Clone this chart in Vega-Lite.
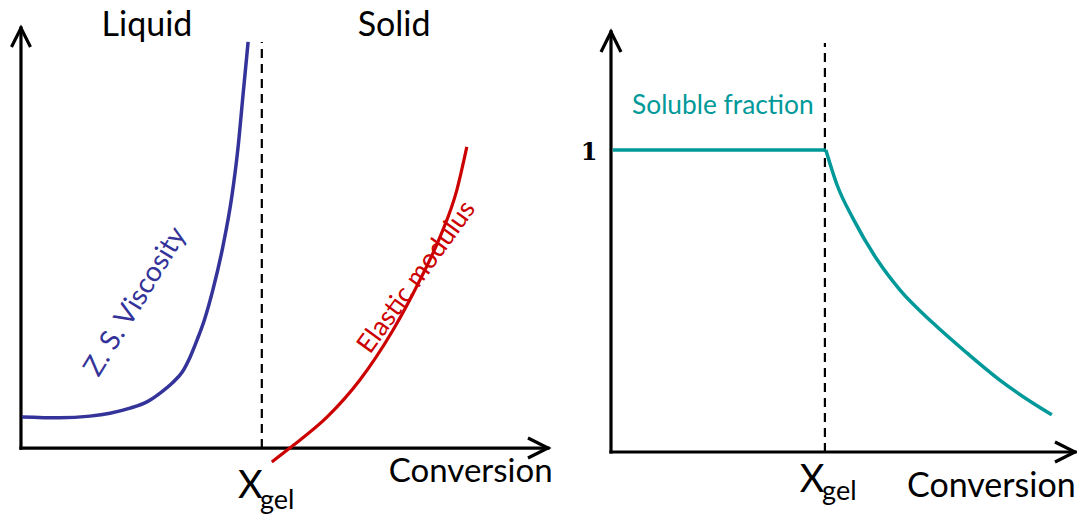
{
  "$schema": "https://vega.github.io/schema/vega-lite/v6.json",
  "padding": 0,
  "spacing": 0,
  "bounds": "flush",
  "background": "white",
  "config": {"view": {"stroke": null}},
  "hconcat": [
    {
      "width": 560,
      "height": 514,
      "layer": [
        {
          "data": {"values": [{"x": 0, "y": 0, "x2": 1, "y2": 0}, {"x": 0, "y": 0, "x2": 0, "y2": 1}]},
          "mark": {"type": "rule", "color": "black", "strokeWidth": 3.2, "strokeCap": "square"},
          "encoding": {
            "x": {"field": "x", "type": "quantitative", "scale": {"domain": [-0.0398, 1.0228], "nice": false, "zero": false}, "axis": null},
            "y": {"field": "y", "type": "quantitative", "scale": {"domain": [-0.157, 1.0667], "nice": false, "zero": false}, "axis": null},
            "x2": {"field": "x2"},
            "y2": {"field": "y2"}
          }
        },
        {
          "data": {"values": [{"x": 0.457, "y": 0, "y2": 0.967}]},
          "mark": {"type": "rule", "color": "black", "strokeWidth": 2.2, "strokeDash": [9, 6]},
          "encoding": {
            "x": {"field": "x", "type": "quantitative", "axis": null},
            "y": {"field": "y", "type": "quantitative", "axis": null},
            "y2": {"field": "y2"}
          }
        },
        {
          "data": {"values": [
            {"x": 0.002, "y": 0.074}, {"x": 0.073, "y": 0.072}, {"x": 0.131, "y": 0.076}, {"x": 0.169, "y": 0.083},
            {"x": 0.207, "y": 0.095}, {"x": 0.239, "y": 0.110}, {"x": 0.264, "y": 0.131}, {"x": 0.287, "y": 0.155},
            {"x": 0.306, "y": 0.181}, {"x": 0.321, "y": 0.217}, {"x": 0.334, "y": 0.257}, {"x": 0.348, "y": 0.305},
            {"x": 0.364, "y": 0.376}, {"x": 0.383, "y": 0.479}, {"x": 0.400, "y": 0.598},
            {"x": 0.412, "y": 0.717}, {"x": 0.421, "y": 0.836}, {"x": 0.431, "y": 0.967}
          ]},
          "mark": {"type": "line", "color": "#333399", "strokeWidth": 3.5, "interpolate": "monotone"},
          "encoding": {
            "x": {"field": "x", "type": "quantitative", "axis": null},
            "y": {"field": "y", "type": "quantitative", "axis": null}
          }
        },
        {
          "data": {"values": [
            {"x": 0.476, "y": -0.033}, {"x": 0.510, "y": 0.0}, {"x": 0.581, "y": 0.074}, {"x": 0.643, "y": 0.162},
            {"x": 0.706, "y": 0.281}, {"x": 0.757, "y": 0.400}, {"x": 0.795, "y": 0.502}, {"x": 0.827, "y": 0.614},
            {"x": 0.846, "y": 0.717}
          ]},
          "mark": {"type": "line", "color": "#CC0000", "strokeWidth": 3.2, "interpolate": "monotone"},
          "encoding": {
            "x": {"field": "x", "type": "quantitative", "axis": null},
            "y": {"field": "y", "type": "quantitative", "axis": null}
          }
        },
        {
          "data": {"values": [{"x": 1, "y": 0}]},
          "mark": {"type": "point", "shape": "M -1 -0.5 L 0 0 L -1 0.5", "size": 1600, "filled": false, "color": "black", "strokeWidth": 3.2, "opacity": 1},
          "encoding": {
            "x": {"field": "x", "type": "quantitative", "axis": null},
            "y": {"field": "y", "type": "quantitative", "axis": null}
          }
        },
        {
          "data": {"values": [{"x": 0, "y": 1}]},
          "mark": {"type": "point", "shape": "M -0.5 1 L 0 0 L 0.5 1", "size": 1444, "filled": false, "color": "black", "strokeWidth": 3.2, "opacity": 1},
          "encoding": {
            "x": {"field": "x", "type": "quantitative", "axis": null},
            "y": {"field": "y", "type": "quantitative", "axis": null}
          }
        },
        {
          "data": {"values": [{"x": 0.239, "y": 0.981, "label": "Liquid"}, {"x": 0.708, "y": 0.981, "label": "Solid"}]},
          "mark": {"type": "text", "font": "Lato", "fontSize": 34, "color": "black", "align": "center", "baseline": "alphabetic"},
          "encoding": {
            "x": {"field": "x", "type": "quantitative", "axis": null},
            "y": {"field": "y", "type": "quantitative", "axis": null},
            "text": {"field": "label"}
          }
        },
        {
          "data": {"values": [{"x": 0.698, "y": -0.081, "label": "Conversion"}]},
          "mark": {"type": "text", "font": "Lato", "fontSize": 33, "color": "black", "align": "left", "baseline": "alphabetic"},
          "encoding": {
            "x": {"field": "x", "type": "quantitative", "axis": null},
            "y": {"field": "y", "type": "quantitative", "axis": null},
            "text": {"field": "label"}
          }
        },
        {
          "data": {"values": [{"x": 0.412, "y": -0.119, "label": "X"}]},
          "mark": {"type": "text", "font": "Lato", "fontSize": 38, "color": "black", "align": "left", "baseline": "alphabetic"},
          "encoding": {
            "x": {"field": "x", "type": "quantitative", "axis": null},
            "y": {"field": "y", "type": "quantitative", "axis": null},
            "text": {"field": "label"}
          }
        },
        {
          "data": {"values": [{"x": 0.4535, "y": -0.145, "label": "gel"}]},
          "mark": {"type": "text", "font": "Lato", "fontSize": 27, "color": "black", "align": "left", "baseline": "alphabetic"},
          "encoding": {
            "x": {"field": "x", "type": "quantitative", "axis": null},
            "y": {"field": "y", "type": "quantitative", "axis": null},
            "text": {"field": "label"}
          }
        },
        {
          "data": {"values": [{"x": 0.218, "y": 0.348, "label": "Z. S.  Viscosity"}]},
          "mark": {"type": "text", "font": "Lato", "fontSize": 28, "color": "#333399", "align": "center", "baseline": "middle", "angle": 301.5},
          "encoding": {
            "x": {"field": "x", "type": "quantitative", "axis": null},
            "y": {"field": "y", "type": "quantitative", "axis": null},
            "text": {"field": "label"}
          }
        },
        {
          "data": {"values": [{"x": 0.751, "y": 0.407, "label": "Elastic modulus"}]},
          "mark": {"type": "text", "font": "Lato", "fontSize": 26.5, "color": "#CC0000", "align": "center", "baseline": "middle", "angle": 306},
          "encoding": {
            "x": {"field": "x", "type": "quantitative", "axis": null},
            "y": {"field": "y", "type": "quantitative", "axis": null},
            "text": {"field": "label"}
          }
        }
      ]
    },
    {
      "width": 517,
      "height": 514,
      "layer": [
        {
          "data": {"values": [{"x": 0, "y": 0, "x2": 1, "y2": 0}, {"x": 0, "y": 0, "x2": 0, "y2": 1.391}]},
          "mark": {"type": "rule", "color": "black", "strokeWidth": 3.2, "strokeCap": "square"},
          "encoding": {
            "x": {"field": "x", "type": "quantitative", "scale": {"domain": [-0.1099, 1.0043], "nice": false, "zero": false}, "axis": null},
            "y": {"field": "y", "type": "quantitative", "scale": {"domain": [-0.2053, 1.4967], "nice": false, "zero": false}, "axis": null},
            "x2": {"field": "x2"},
            "y2": {"field": "y2"}
          }
        },
        {
          "data": {"values": [{"x": 0.461, "y": 0, "y2": 1.354}]},
          "mark": {"type": "rule", "color": "black", "strokeWidth": 2.2, "strokeDash": [9, 6]},
          "encoding": {
            "x": {"field": "x", "type": "quantitative", "axis": null},
            "y": {"field": "y", "type": "quantitative", "axis": null},
            "y2": {"field": "y2"}
          }
        },
        {
          "data": {"values": [{"x": 0.004, "y": 1.0}, {"x": 0.463, "y": 1.0}]},
          "mark": {"type": "line", "color": "#009999", "strokeWidth": 3.5},
          "encoding": {
            "x": {"field": "x", "type": "quantitative", "axis": null},
            "y": {"field": "y", "type": "quantitative", "axis": null}
          }
        },
        {
          "data": {"values": [
            {"x": 0.463, "y": 1.0}, {"x": 0.487, "y": 0.885}, {"x": 0.522, "y": 0.772},
            {"x": 0.573, "y": 0.638}, {"x": 0.623, "y": 0.536}, {"x": 0.694, "y": 0.427}, {"x": 0.767, "y": 0.328},
            {"x": 0.838, "y": 0.238}, {"x": 0.909, "y": 0.162}, {"x": 0.950, "y": 0.123}
          ]},
          "mark": {"type": "line", "color": "#009999", "strokeWidth": 3.5, "interpolate": "monotone"},
          "encoding": {
            "x": {"field": "x", "type": "quantitative", "axis": null},
            "y": {"field": "y", "type": "quantitative", "axis": null}
          }
        },
        {
          "data": {"values": [{"x": 1, "y": 0}]},
          "mark": {"type": "point", "shape": "M -1 -0.5 L 0 0 L -1 0.5", "size": 1600, "filled": false, "color": "black", "strokeWidth": 3.2, "opacity": 1},
          "encoding": {
            "x": {"field": "x", "type": "quantitative", "axis": null},
            "y": {"field": "y", "type": "quantitative", "axis": null}
          }
        },
        {
          "data": {"values": [{"x": 0, "y": 1.391}]},
          "mark": {"type": "point", "shape": "M -0.5 1 L 0 0 L 0.5 1", "size": 1600, "filled": false, "color": "black", "strokeWidth": 3.2, "opacity": 1},
          "encoding": {
            "x": {"field": "x", "type": "quantitative", "axis": null},
            "y": {"field": "y", "type": "quantitative", "axis": null}
          }
        },
        {
          "data": {"values": [{"x": -0.047, "y": 0.99, "label": "1"}]},
          "mark": {"type": "text", "font": "DejaVu Serif", "fontWeight": "bold", "fontSize": 24, "color": "black", "align": "center", "baseline": "middle"},
          "encoding": {
            "x": {"field": "x", "type": "quantitative", "axis": null},
            "y": {"field": "y", "type": "quantitative", "axis": null},
            "text": {"field": "label"}
          }
        },
        {
          "data": {"values": [{"x": 0.241, "y": 1.119, "label": "Soluble fraction"}]},
          "mark": {"type": "text", "font": "Lato", "fontSize": 26.3, "color": "#009999", "align": "center", "baseline": "alphabetic"},
          "encoding": {
            "x": {"field": "x", "type": "quantitative", "axis": null},
            "y": {"field": "y", "type": "quantitative", "axis": null},
            "text": {"field": "label"}
          }
        },
        {
          "data": {"values": [{"x": 0.638, "y": -0.149, "label": "Conversion"}]},
          "mark": {"type": "text", "font": "Lato", "fontSize": 34, "color": "black", "align": "left", "baseline": "alphabetic"},
          "encoding": {
            "x": {"field": "x", "type": "quantitative", "axis": null},
            "y": {"field": "y", "type": "quantitative", "axis": null},
            "text": {"field": "label"}
          }
        },
        {
          "data": {"values": [{"x": 0.407, "y": -0.132, "label": "X"}]},
          "mark": {"type": "text", "font": "Lato", "fontSize": 38, "color": "black", "align": "left", "baseline": "alphabetic"},
          "encoding": {
            "x": {"field": "x", "type": "quantitative", "axis": null},
            "y": {"field": "y", "type": "quantitative", "axis": null},
            "text": {"field": "label"}
          }
        },
        {
          "data": {"values": [{"x": 0.455, "y": -0.159, "label": "gel"}]},
          "mark": {"type": "text", "font": "Lato", "fontSize": 27, "color": "black", "align": "left", "baseline": "alphabetic"},
          "encoding": {
            "x": {"field": "x", "type": "quantitative", "axis": null},
            "y": {"field": "y", "type": "quantitative", "axis": null},
            "text": {"field": "label"}
          }
        }
      ]
    }
  ]
}
